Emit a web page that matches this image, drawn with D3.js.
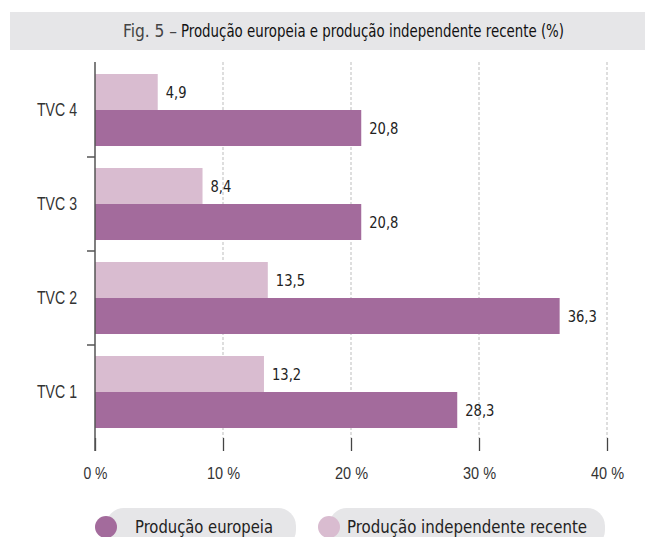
<!DOCTYPE html>
<html><head><meta charset="utf-8">
<script src="https://cdn.jsdelivr.net/npm/d3@7"></script>
<style>
html,body{margin:0;padding:0;background:#fff;}
svg{display:block;font-family:"DejaVu Sans Condensed","Liberation Sans Narrow","Roboto",sans-serif;}
</style></head>
<body><svg id="c" width="645" height="537"></svg>
<script>
const titlePrefix = "Fig. 5 –";
const titleMain = "Produção europeia e produção independente recente (%)";
const categories = ["TVC 4", "TVC 3", "TVC 2", "TVC 1"];
const seriesNames = ["Produção independente recente", "Produção europeia"];
const independente = [4.9, 8.4, 13.5, 13.2];
const europeia = [20.8, 20.8, 36.3, 28.3];
const xTicks = [0, 10, 20, 30, 40];
const colors = ["#d9bcd0", "#a36b9c"];

const svg = d3.select("#c");
// title banner
svg.append("rect").attr("x", 10).attr("y", 12).attr("width", 635).attr("height", 38).attr("fill", "#e6e6e8");
svg.append("text").attr("x", 123).attr("y", 37)
  .attr("font-size", 17.5).attr("fill", "#444")
  .attr("textLength", 54).attr("lengthAdjust", "spacingAndGlyphs").text(titlePrefix);
svg.append("text").attr("x", 181).attr("y", 37)
  .attr("font-size", 17.5).attr("fill", "#111")
  .attr("textLength", 383).attr("lengthAdjust", "spacingAndGlyphs").text(titleMain);

const x = d3.scaleLinear().domain([0, 40]).range([95, 607]);
const y = d3.scaleBand().domain(categories).range([63, 439]).paddingInner(0.234).paddingOuter(0.117);
const ys = d3.scaleBand().domain([0, 1]).range([0, y.bandwidth()]);

// gridlines
svg.append("g").selectAll("line").data(xTicks.slice(1)).join("line")
  .attr("x1", d => x(d)).attr("x2", d => x(d)).attr("y1", 62).attr("y2", 438)
  .attr("stroke", "#bdbdbd").attr("stroke-width", 1).attr("stroke-dasharray", "3,2");

// bars
const rows = categories.map((c, i) => ({c, vals: [independente[i], europeia[i]]}));
const g = svg.append("g");
rows.forEach(r => {
  r.vals.forEach((v, j) => {
    const label = d3.format(".1f")(v).replace(".", ",");
    g.append("rect").attr("x", x(0)).attr("y", y(r.c) + ys(j))
      .attr("width", x(v) - x(0)).attr("height", ys.bandwidth()).attr("fill", colors[j]);
    g.append("text").attr("x", x(v) + 8).attr("y", y(r.c) + ys(j) + ys.bandwidth() / 2)
      .attr("dy", "0.36em").attr("font-size", 16).attr("fill", "#222")
      .attr("textLength", (label.length - 1) * 8.4 + 4).attr("lengthAdjust", "spacingAndGlyphs")
      .text(label);
  });
});

// x axis ticks
const xa = svg.append("g").attr("transform", "translate(0,438)")
  .call(d3.axisBottom(x).tickValues(xTicks).tickSize(13).tickPadding(16).tickFormat(d => d + " %"));
xa.select(".domain").remove();
xa.selectAll(".tick line").attr("stroke", "#444").attr("stroke-width", 1.3);
xa.selectAll(".tick text").attr("font-size", 17).attr("fill", "#333").attr("font-family", null)
  .attr("textLength", d => d === 0 ? 24 : 33).attr("lengthAdjust", "spacingAndGlyphs");

// y axis
const ya = svg.append("g").attr("transform", "translate(95,0)")
  .call(d3.axisLeft(y).tickSize(0).tickPadding(18));
ya.select(".domain").remove();
ya.selectAll(".tick text").attr("font-size", 19).attr("fill", "#333").attr("font-family", null)
  .attr("textLength", 40).attr("lengthAdjust", "spacingAndGlyphs");
svg.append("line").attr("x1", 95).attr("x2", 95).attr("y1", 62).attr("y2", 451)
  .attr("stroke", "#555").attr("stroke-width", 1.5);
svg.append("g").selectAll("line").data(categories.slice(1)).join("line")
  .attr("x1", 87).attr("x2", 95)
  .attr("y1", d => y(d) - y.step() * y.paddingInner() / 2).attr("y2", d => y(d) - y.step() * y.paddingInner() / 2)
  .attr("stroke", "#555").attr("stroke-width", 1.5);

// legend
const legend = [
  {name: seriesNames[1], color: colors[1], cx: 106, tx: 135, tw: 138, end: 296},
  {name: seriesNames[0], color: colors[0], cx: 329, tx: 347, tw: 240, end: 605}
];
legend.forEach(l => {
  svg.append("rect").attr("x", l.cx).attr("y", 508).attr("width", l.end - l.cx).attr("height", 40)
    .attr("rx", 18).attr("fill", "#e6e6e8");
  svg.append("circle").attr("cx", l.cx).attr("cy", 527).attr("r", 11).attr("fill", l.color);
  svg.append("text").attr("x", l.tx).attr("y", 527).attr("dy", "0.36em")
    .attr("font-size", 18).attr("fill", "#222").text(l.name)
    .attr("textLength", l.tw).attr("lengthAdjust", "spacingAndGlyphs");
});
</script></body></html>
